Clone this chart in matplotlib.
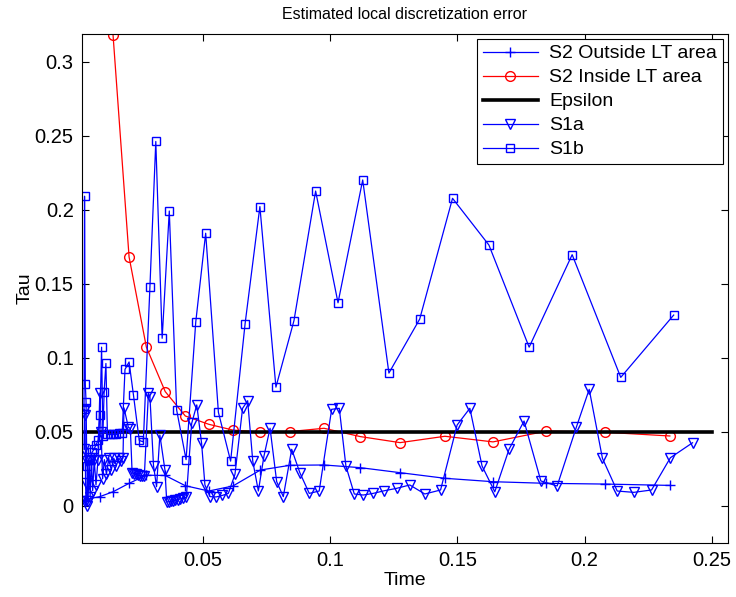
import matplotlib
matplotlib.use("Agg")
import matplotlib.pyplot as plt

plt.rcParams['font.family'] = ['Liberation Sans', 'DejaVu Sans']

# S2 outside LT area (+)
t_out = [0.0037, 0.0095, 0.0147, 0.0210, 0.0278, 0.0352, 0.0431, 0.0523, 0.0618,
         0.0726, 0.0843, 0.0976, 0.1118, 0.1275, 0.1451, 0.1640, 0.1850, 0.2082, 0.2335]
tau_out = [0.004, 0.006, 0.0093, 0.0150, 0.0205, 0.0203, 0.0134, 0.0098, 0.0132,
           0.0240, 0.0272, 0.0274, 0.0256, 0.0222, 0.0184, 0.0161, 0.0150, 0.0145, 0.0136]

# S2 inside LT area (o)
t_in = [0.0147, 0.0210, 0.0278, 0.0352, 0.0431, 0.0523, 0.0618, 0.0726, 0.0843,
        0.0976, 0.1118, 0.1275, 0.1451, 0.1640, 0.1850, 0.2082, 0.2335]
tau_in = [0.318, 0.168, 0.107, 0.077, 0.0605, 0.0549, 0.0510, 0.0496, 0.0500,
          0.0522, 0.0466, 0.0425, 0.0468, 0.0430, 0.0503, 0.0495, 0.0470]

# Epsilon
t_eps = [0.0035, 0.25]
eps = [0.05, 0.05]

# S1a (v)
t_1a = [0.0033, 0.0035, 0.0037, 0.0039, 0.0041, 0.0044, 0.0046, 0.0049, 0.0053,
        0.0057, 0.0062, 0.0067, 0.0073, 0.0080, 0.0088, 0.0095, 0.0100, 0.0106,
        0.0113, 0.0121, 0.0130, 0.0140, 0.0150, 0.0160, 0.0170, 0.0178, 0.0186,
        0.0190, 0.0207, 0.0215, 0.0222, 0.0230, 0.0238, 0.0246, 0.0254, 0.0262,
        0.0270, 0.0286, 0.0292, 0.0306, 0.0318, 0.0331, 0.0351, 0.0358, 0.0366,
        0.0374, 0.0383, 0.0392, 0.0402, 0.0412, 0.0423, 0.0435, 0.0456, 0.0476,
        0.0495, 0.0508, 0.0528, 0.0552, 0.0576, 0.0600, 0.0626, 0.0656, 0.0676,
        0.0696, 0.0718, 0.0740, 0.0764, 0.0790, 0.0816, 0.0849, 0.0881, 0.0918,
        0.0957, 0.1006, 0.1036, 0.1062, 0.1095, 0.1130, 0.1169, 0.1213, 0.1261,
        0.1313, 0.1372, 0.1434, 0.1499, 0.1549, 0.1597, 0.1647, 0.1703, 0.1762,
        0.1828, 0.1892, 0.1968, 0.2018, 0.2070, 0.2128, 0.2193, 0.2263, 0.2337,
        0.2424]
tau_1a = [0.038, 0.065, 0.061, 0.015, 0.003, 0.000, 0.030, 0.003, 0.031,
          0.006, 0.031, 0.010, 0.031, 0.014, 0.031, 0.076, 0.050, 0.018,
          0.031, 0.021, 0.032, 0.024, 0.032, 0.027, 0.032, 0.030, 0.032,
          0.066, 0.053, 0.052, 0.022, 0.0215, 0.021, 0.0205, 0.020, 0.020,
          0.020, 0.076, 0.0735, 0.027, 0.0127, 0.0476, 0.024, 0.0025, 0.0025,
          0.003, 0.003, 0.0035, 0.004, 0.0045, 0.005, 0.0055, 0.0555, 0.068,
          0.042, 0.0139, 0.006, 0.0058, 0.0068, 0.0082, 0.021, 0.0657, 0.0708,
          0.030, 0.0098, 0.0334, 0.0522, 0.0161, 0.006, 0.038, 0.0222, 0.0082,
          0.0098, 0.065, 0.0657, 0.0267, 0.0078, 0.0071, 0.0082, 0.0100, 0.0116,
          0.0139, 0.0078, 0.0105, 0.0544, 0.0657, 0.0267, 0.0093, 0.038, 0.0571,
          0.0166, 0.0132, 0.0532, 0.0785, 0.0319, 0.0098, 0.0089, 0.0105, 0.0323,
          0.0424]

# S1b (s)
t_1b = [0.0033, 0.0035, 0.0038, 0.0041, 0.0044, 0.0051, 0.0058, 0.0065, 0.0072,
        0.0080, 0.0088, 0.0096, 0.0102, 0.0107, 0.0112, 0.0119, 0.0125, 0.0135,
        0.0147, 0.0160, 0.0172, 0.0183, 0.0194, 0.0210, 0.0227, 0.0250, 0.0266,
        0.0292, 0.0315, 0.0340, 0.0368, 0.0397, 0.0434, 0.0472, 0.0511, 0.0561,
        0.0609, 0.0666, 0.0724, 0.0787, 0.0858, 0.0943, 0.1031, 0.1128, 0.1231,
        0.1352, 0.1481, 0.1624, 0.1782, 0.1951, 0.2142, 0.2350]
tau_1b = [0.065, 0.209, 0.082, 0.070, 0.027, 0.031, 0.033, 0.036, 0.038,
          0.041, 0.044, 0.061, 0.107, 0.047, 0.077, 0.096, 0.048, 0.048,
          0.048, 0.048, 0.049, 0.049, 0.092, 0.097, 0.075, 0.044, 0.043,
          0.148, 0.246, 0.113, 0.199, 0.0645, 0.031, 0.124, 0.184, 0.063,
          0.030, 0.123, 0.202, 0.080, 0.125, 0.2125, 0.137, 0.220, 0.0895,
          0.126, 0.2076, 0.176, 0.107, 0.1695, 0.0866, 0.1287]

fig = plt.figure(figsize=(7.36, 5.97), dpi=100)
ax = fig.add_axes([0.1114, 0.0905, 0.8776, 0.8525])

ax.plot(t_out, tau_out, color='blue', marker='+', ms=7, lw=0.9, label='S2 Outside LT area')
ax.plot(t_in, tau_in, color='red', marker='o', ms=7, mfc='none', lw=0.9, label='S2 Inside LT area')
ax.plot(t_eps, eps, color='black', lw=2.6, label='Epsilon')
ax.plot(t_1a, tau_1a, color='blue', marker='v', ms=7, mfc='none', lw=0.9, label='S1a')
ax.plot(t_1b, tau_1b, color='blue', marker='s', ms=6, mfc='none', lw=0.9, label='S1b')

ax.set_xlim(0.0025, 0.2563)
ax.set_ylim(-0.0253, 0.3186)
ax.set_xticks([0.05, 0.1, 0.15, 0.2, 0.25])
ax.set_xticklabels(['0.05', '0.1', '0.15', '0.2', '0.25'])
ax.set_yticks([0, 0.05, 0.1, 0.15, 0.2, 0.25, 0.3])
ax.set_yticklabels(['0', '0.05', '0.1', '0.15', '0.2', '0.25', '0.3'])
ax.tick_params(direction='in', top=True, right=True, labelsize=14.5, length=5, pad=6)
for s in ax.spines.values():
    s.set_linewidth(0.8)

ax.set_title('Estimated local discretization error', fontsize=11.5, pad=11)
ax.set_xlabel('Time', fontsize=14, labelpad=1)
ax.set_ylabel('Tau', fontsize=14, labelpad=1)

leg = ax.legend(loc='upper right', fontsize=14, fancybox=False, framealpha=1,
                edgecolor='black', borderaxespad=0.25, handlelength=2.8,
                handletextpad=0.6, labelspacing=0.33, borderpad=0.3)
leg.get_frame().set_linewidth(0.8)

fig.savefig('out.png', dpi=100)
